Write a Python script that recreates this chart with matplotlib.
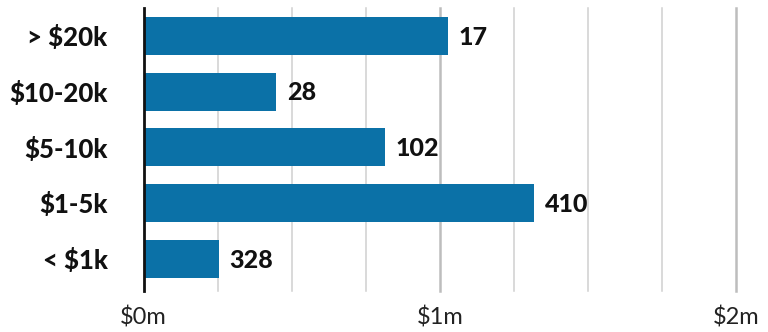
import matplotlib
matplotlib.use("Agg")
import matplotlib.pyplot as plt

# --- Data (bottom to top) ---
categories = ["< $1k", "$1-5k", "$5-10k", "$10-20k", "> $20k"]
totals_m = [0.255, 1.319, 0.816, 0.448, 1.029]   # total amount, $m
counts = [328, 410, 102, 28, 17]
xticks = [0, 1, 2]
xtick_labels = ["$0m", "$1m", "$2m"]

BAR_COLOR = "#0b71a7"

fig = plt.figure(figsize=(7.68, 3.32), dpi=100)
ax = fig.add_axes([143.5 / 768, 41 / 332, (736 - 143.5) / 768, 283 / 332])

y = list(range(len(categories)))

# gridlines every $0.25m, major ones a bit heavier
for g in [0.25 * i for i in range(1, 9)]:
    major = abs(g - round(g)) < 1e-9
    ax.axvline(g, color="#bdbdbd" if major else "#cfcfcf",
               lw=1.8 if major else 1.1, zorder=0, clip_on=False)

ax.barh(y, totals_m, height=0.68, color=BAR_COLOR, zorder=2)

for yi, v, c in zip(y, totals_m, counts):
    ax.annotate(str(c), (v, yi), xytext=(7.5, -1), textcoords="offset points",
                va="center", ha="left", fontsize=18, fontweight="black",
                family="Lato", color="#111111")

ax.set_xlim(0, 2)
ax.set_ylim(-0.58, 4.5)
ax.set_yticks(y)
ax.set_yticklabels(categories, fontsize=18.5, fontweight="black", family="Lato",
                   color="#111111")
ax.set_xticks(xticks)
ax.set_xticklabels(xtick_labels, fontsize=17, family="Lato", color="#222222")
ax.tick_params(axis="y", length=0, pad=26)
ax.tick_params(axis="x", length=0, pad=11)

for s in ["top", "right", "bottom"]:
    ax.spines[s].set_visible(False)
ax.spines["left"].set_linewidth(2)
ax.spines["left"].set_color("#111111")
ax.spines["left"].set_zorder(3)

fig.savefig("out.png", dpi=100)
